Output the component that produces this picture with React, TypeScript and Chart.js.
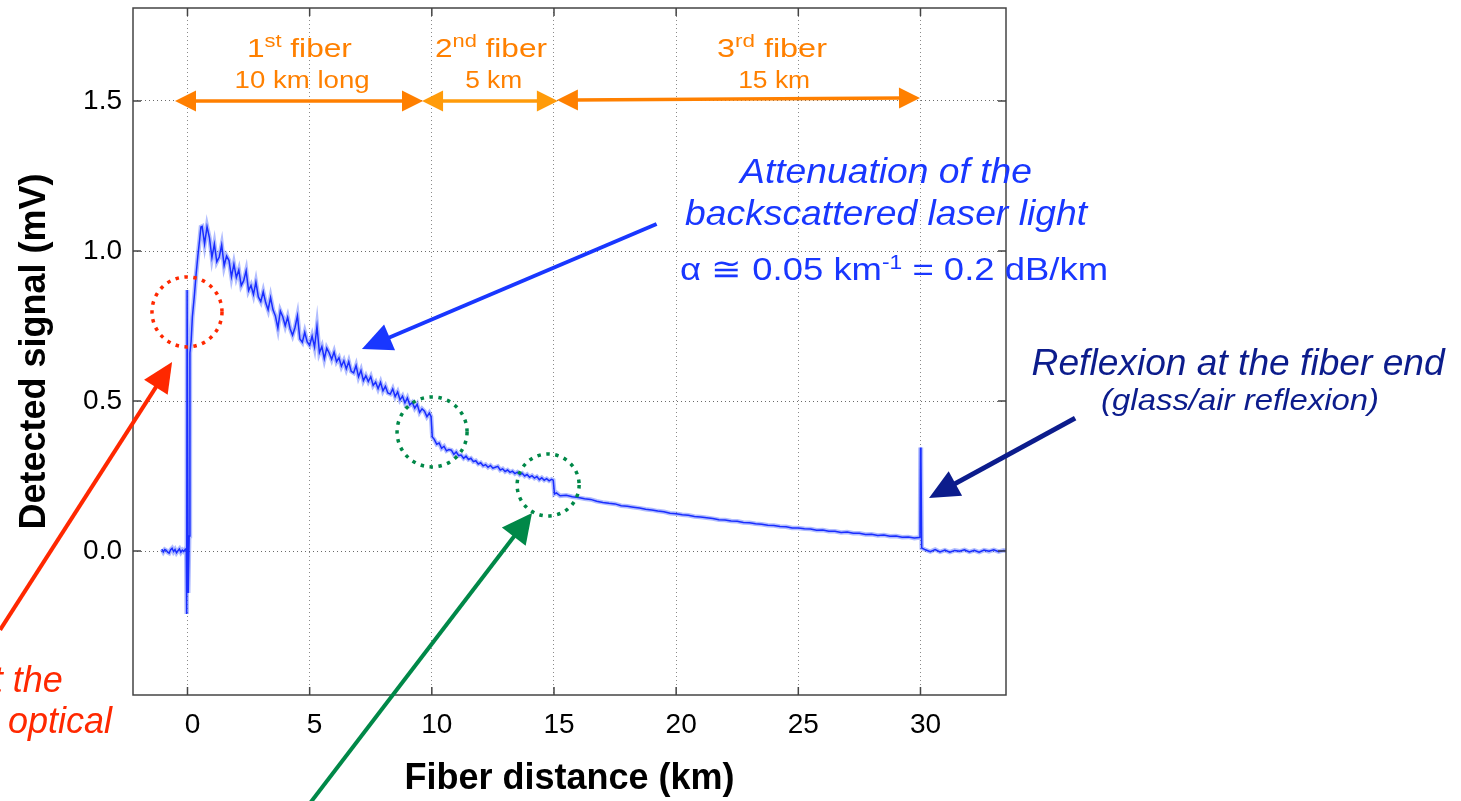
import React, { useEffect, useRef } from "react";
import { Chart, registerables } from "chart.js";

Chart.register(...registerables);

// ---------- data ----------
const preKm = [-1.05, -0.99, -0.93, -0.87, -0.81, -0.75, -0.69, -0.63, -0.57, -0.51, -0.45, -0.39, -0.33, -0.27, -0.21, -0.15, -0.09, -0.05];
const preMv = [0.006, -0.003, 0.005, 0.002, -0.004, -0.007, 0.004, 0.009, -0.002, 0.005, -0.006, 0.001, 0.007, -0.004, 0.003, -0.002, 0.006, 0.001];

const launchKm = [-0.04, -0.025, -0.015, 0.03, 0.07, 0.1, 0.15, 0.2, 0.28, 0.35, 0.42, 0.5, 0.55];
const launchMv = [0.0, -0.21, 0.87, -0.14, 0.05, 0.66, 0.7, 0.78, 0.85, 0.92, 0.98, 1.04, 1.08];

const fiber1Km = [0.6, 0.7, 0.8, 0.9, 1.0, 1.1, 1.2, 1.3, 1.4, 1.5, 1.6, 1.7, 1.8, 1.9, 2.0, 2.1, 2.2, 2.3, 2.4, 2.5, 2.6, 2.7, 2.8, 2.9, 3.0, 3.1, 3.2, 3.3, 3.4, 3.5, 3.6, 3.7, 3.8, 3.9, 4.0, 4.1, 4.2, 4.3, 4.4, 4.5, 4.6, 4.7, 4.8, 4.9, 5.0, 5.1, 5.2, 5.3, 5.4, 5.5, 5.6, 5.7, 5.8, 5.9, 6.0, 6.1, 6.2, 6.3, 6.4, 6.5, 6.6, 6.7, 6.8, 6.9, 7.0, 7.1, 7.2, 7.3, 7.4, 7.5, 7.6, 7.7, 7.8, 7.9, 8.0, 8.1, 8.2, 8.3, 8.4, 8.5, 8.6, 8.7, 8.8, 8.9, 9.0, 9.1, 9.2, 9.3, 9.4, 9.5, 9.6, 9.7, 9.8, 9.9];
const fiber1Mv = [
  1.082, 1.024, 1.081, 1.044, 0.978, 1.023, 0.964, 0.98, 1.02, 0.951,
  0.983, 0.968, 0.914, 0.956, 0.912, 0.937, 0.885, 0.901, 0.934, 0.868,
  0.885, 0.855, 0.896, 0.847, 0.831, 0.864, 0.828, 0.804, 0.845, 0.804,
  0.783, 0.743, 0.8, 0.781, 0.751, 0.779, 0.741, 0.719, 0.745, 0.784,
  0.707, 0.696, 0.729, 0.697, 0.686, 0.716, 0.68, 0.749, 0.661, 0.681,
  0.641, 0.676, 0.66, 0.639, 0.663, 0.631, 0.644, 0.616, 0.634, 0.607,
  0.631, 0.599, 0.594, 0.618, 0.581, 0.602, 0.568, 0.584, 0.565, 0.581,
  0.552, 0.563, 0.541, 0.562, 0.534, 0.549, 0.527, 0.523, 0.54, 0.515,
  0.53, 0.504, 0.516, 0.494, 0.51, 0.487, 0.495, 0.476, 0.489, 0.462,
  0.474, 0.466, 0.448, 0.46,
];

const fiber2Km = [9.97, 10.02, 10.1, 10.2, 10.3, 10.4, 10.5, 10.6, 10.7, 10.8, 10.9, 11.0, 11.1, 11.2, 11.3, 11.4, 11.5, 11.6, 11.7, 11.8, 11.9, 12.0, 12.1, 12.2, 12.3, 12.4, 12.5, 12.6, 12.7, 12.8, 12.9, 13.0, 13.1, 13.2, 13.3, 13.4, 13.5, 13.6, 13.7, 13.8, 13.9, 14.0, 14.1, 14.2, 14.3, 14.4, 14.5, 14.6, 14.7, 14.8, 14.9, 14.97];
const fiber2Mv = [
  0.448, 0.38,
  0.372, 0.356, 0.36, 0.342, 0.349, 0.334, 0.338, 0.336, 0.322, 0.33,
  0.318, 0.32, 0.309, 0.316, 0.305, 0.309, 0.298, 0.301, 0.29, 0.294,
  0.284, 0.288, 0.279, 0.285, 0.276, 0.279, 0.282, 0.27, 0.274, 0.265,
  0.27, 0.262, 0.266, 0.258, 0.263, 0.254, 0.259, 0.25, 0.255, 0.246,
  0.251, 0.243, 0.248, 0.238, 0.244, 0.236, 0.241, 0.234, 0.239,
  0.236,
];

const fiber3Km = [15.02, 15.1, 15.25, 15.5, 15.75, 16.0, 16.25, 16.5, 16.75, 17.0, 17.25, 17.5, 17.75, 18.0, 18.25, 18.5, 18.75, 19.0, 19.25, 19.5, 19.75, 20.0, 20.25, 20.5, 20.75, 21.0, 21.25, 21.5, 21.75, 22.0, 22.25, 22.5, 22.75, 23.0, 23.25, 23.5, 23.75, 24.0, 24.25, 24.5, 24.75, 25.0, 25.25, 25.5, 25.75, 26.0, 26.25, 26.5, 26.75, 27.0, 27.25, 27.5, 27.75, 28.0, 28.25, 28.5, 28.75, 29.0, 29.25, 29.5, 29.75, 29.95];
const fiber3Mv = [
  0.19, 0.194, 0.184,
  0.186, 0.181,
  0.178, 0.174, 0.172, 0.166,
  0.162, 0.159, 0.157, 0.151,
  0.149, 0.146, 0.143, 0.139,
  0.137, 0.133, 0.131, 0.126,
  0.124, 0.121, 0.119, 0.115,
  0.113, 0.111, 0.108, 0.104,
  0.103, 0.1, 0.099, 0.095,
  0.094, 0.091, 0.089, 0.086,
  0.085, 0.082, 0.081, 0.077,
  0.077, 0.074, 0.073, 0.069,
  0.07, 0.066, 0.066, 0.062,
  0.063, 0.059, 0.059, 0.055,
  0.056, 0.052, 0.053, 0.049,
  0.05, 0.046, 0.047, 0.043,
  0.045,
];

const endKm = [29.98, 30.0, 30.02, 30.05, 30.2, 30.4, 30.6, 30.8, 31.0, 31.2, 31.4, 31.6, 31.8, 32.0, 32.2, 32.4, 32.6, 32.8, 33.0, 33.2, 33.4, 33.5];
const endMv = [0.046, 0.345, 0.3, 0.01, 0.004, -0.002, 0.005, -0.003, 0.003, -0.004, 0.002, -0.001, 0.004, -0.003, 0.002, -0.004, 0.003, -0.001, 0.004, -0.002, 0.002, 0.001];

const xTickValues = [0, 5, 10, 15, 20, 25, 30];
const yTickValues = [0, 0.5, 1.0, 1.5];

// ---------- annotation styling (positions in data units) ----------
const FONT = "Arial, 'Liberation Sans', Helvetica, sans-serif";
const ORANGE = "rgb(255,128,0)";
const BLUE = "rgb(25,55,255)";
const NAVY = "rgb(12,28,140)";
const RED = "rgb(255,40,0)";
const GREEN = "rgb(0,136,72)";

const spanArrows = [
  { x0: -0.51, y0: 1.5, x1: 9.64, y1: 1.5, color: "rgb(255,127,0)" },
  { x0: 9.6, y0: 1.5, x1: 15.16, y1: 1.5, color: "rgb(255,155,10)" },
  { x0: 15.12, y0: 1.503, x1: 29.98, y1: 1.51, color: "rgb(255,128,0)" },
];

const pointerArrows = [
  { x0: 19.2, y0: 1.09, x1: 7.14, y1: 0.673, color: BLUE, width: 4, head: 30, half: 14 },
  { x0: -7.67, y0: -0.263, x1: -0.63, y1: 0.63, color: RED, width: 4, head: 30, half: 14 },
  { x0: 5.02, y0: -0.84, x1: 14.1, y1: 0.127, color: GREEN, width: 4, head: 30, half: 15 },
  { x0: 36.33, y0: 0.443, x1: 30.35, y1: 0.177, color: NAVY, width: 5, head: 30, half: 14 },
];

const dottedCircles = [
  { x: -0.02, y: 0.797, r: 35, color: RED },
  { x: 10.01, y: 0.397, r: 35, color: GREEN },
  { x: 14.76, y: 0.22, r: 31, color: GREEN },
];

type Seg = [string, number, number];
const textNotes: { segs: Seg[]; x: number; y: number; color: string; italic?: boolean; width?: number; align?: "center" | "right" }[] = [
  { segs: [["1", 26, 0], ["st", 18, 10], [" fiber", 26, 0]], x: 4.58, y: 1.647, color: ORANGE, width: 105 },
  { segs: [["10 km long", 23, 0]], x: 4.69, y: 1.545, color: ORANGE, width: 135 },
  { segs: [["2", 26, 0], ["nd", 18, 10], [" fiber", 26, 0]], x: 12.42, y: 1.647, color: ORANGE, width: 112 },
  { segs: [["5 km", 23, 0]], x: 12.53, y: 1.545, color: ORANGE, width: 57 },
  { segs: [["3", 26, 0], ["rd", 18, 10], [" fiber", 26, 0]], x: 23.92, y: 1.647, color: ORANGE, width: 110 },
  { segs: [["15 km", 23, 0]], x: 24.01, y: 1.545, color: ORANGE, width: 72 },
  { segs: [["Attenuation of the", 35, 0]], x: 28.59, y: 1.227, color: BLUE, italic: true, width: 292 },
  { segs: [["backscattered laser light", 35, 0]], x: 28.59, y: 1.087, color: BLUE, italic: true, width: 402 },
  { segs: [["α ≅ 0.05 km", 32, 0], ["-1", 20, 11], [" = 0.2 dB/km", 32, 0]], x: 28.92, y: 0.903, color: BLUE, width: 428 },
  { segs: [["Reflexion at the fiber end", 36, 0]], x: 43.0, y: 0.587, color: NAVY, italic: true, width: 413 },
  { segs: [["(glass/air reflexion)", 29, 0]], x: 43.08, y: 0.47, color: NAVY, italic: true, width: 278 },
  { segs: [["Reflexion at the", 36, 0]], x: -5.1, y: -0.47, color: RED, italic: true, align: "right" },
  { segs: [["entrance of the optical", 36, 0]], x: -3.09, y: -0.607, color: RED, italic: true, align: "right" },
];

function arrowHead(ctx: CanvasRenderingContext2D, tx: number, ty: number, ux: number, uy: number, len: number, half: number) {
  const px = -uy, py = ux;
  ctx.beginPath();
  ctx.moveTo(tx, ty);
  ctx.lineTo(tx - ux * len + px * half, ty - uy * len + py * half);
  ctx.lineTo(tx - ux * len - px * half, ty - uy * len - py * half);
  ctx.closePath();
  ctx.fill();
}

function drawArrow(ctx: CanvasRenderingContext2D, x0: number, y0: number, x1: number, y1: number, color: string, width: number, len: number, half: number, both: boolean) {
  const dx = x1 - x0, dy = y1 - y0;
  const L = Math.hypot(dx, dy);
  const ux = dx / L, uy = dy / L;
  ctx.strokeStyle = color;
  ctx.fillStyle = color;
  ctx.lineWidth = width;
  ctx.setLineDash([]);
  ctx.beginPath();
  const sx = both ? x0 + ux * len * 0.8 : x0;
  const sy = both ? y0 + uy * len * 0.8 : y0;
  ctx.moveTo(sx, sy);
  ctx.lineTo(x1 - ux * len * 0.8, y1 - uy * len * 0.8);
  ctx.stroke();
  arrowHead(ctx, x1, y1, ux, uy, len, half);
  if (both) arrowHead(ctx, x0, y0, -ux, -uy, len, half);
}

const overlayPlugin = {
  id: "overlay",
  afterDraw(chart: any) {
    const { ctx, chartArea: a, scales } = chart;
    const xs = scales.x, ys = scales.y;
    const X = (v: number) => xs.getPixelForValue(v);
    const Y = (v: number) => ys.getPixelForValue(v);
    ctx.save();

    // frame
    ctx.strokeStyle = "#444";
    ctx.lineWidth = 1.5;
    ctx.setLineDash([]);
    ctx.strokeRect(a.left, a.top, a.right - a.left, a.bottom - a.top);

    // inward ticks on all sides
    ctx.beginPath();
    xs.ticks.forEach((t: any) => {
      const p = X(t.value);
      ctx.moveTo(p, a.bottom); ctx.lineTo(p, a.bottom - 8);
      ctx.moveTo(p, a.top); ctx.lineTo(p, a.top + 8);
    });
    ys.ticks.forEach((t: any) => {
      const p = Y(t.value);
      ctx.moveTo(a.left, p); ctx.lineTo(a.left + 8, p);
      ctx.moveTo(a.right, p); ctx.lineTo(a.right - 8, p);
    });
    ctx.stroke();

    // dotted circles
    dottedCircles.forEach((c) => {
      ctx.strokeStyle = c.color;
      ctx.lineWidth = 3.5;
      ctx.setLineDash([3.5, 5.5]);
      ctx.beginPath();
      ctx.arc(X(c.x), Y(c.y), c.r, 0, Math.PI * 2);
      ctx.stroke();
    });
    ctx.setLineDash([]);

    // fiber span arrows
    spanArrows.forEach((s) => {
      drawArrow(ctx, X(s.x0), Y(s.y0), X(s.x1), Y(s.y1), s.color, 3.5, 21, 10.5, true);
    });

    // pointer arrows
    pointerArrows.forEach((p) => {
      drawArrow(ctx, X(p.x0), Y(p.y0), X(p.x1), Y(p.y1), p.color, p.width, p.head, p.half, false);
    });

    // texts
    textNotes.forEach((n) => {
      const style = n.italic ? "italic " : "";
      let total = 0;
      const widths = n.segs.map(([t, size]) => {
        ctx.font = `${style}${size}px ${FONT}`;
        const w = ctx.measureText(t).width;
        total += w;
        return w;
      });
      const sx = n.width ? n.width / total : 1;
      ctx.save();
      ctx.translate(X(n.x), Y(n.y));
      ctx.scale(sx, 1);
      ctx.fillStyle = n.color;
      ctx.textBaseline = "alphabetic";
      ctx.textAlign = "left";
      let cur = n.align === "right" ? -total : -total / 2;
      n.segs.forEach(([t, size, rise], i) => {
        ctx.font = `${style}${size}px ${FONT}`;
        ctx.fillText(t, cur, -rise);
        cur += widths[i];
      });
      ctx.restore();
    });

    ctx.restore();
  },
};

function pairs(xs: number[], ys: number[]) {
  return xs.map((x, i) => ({ x, y: ys[i] }));
}

export default function App() {
  const ref = useRef<HTMLCanvasElement>(null);

  useEffect(() => {
    document.body.style.margin = "0";
    document.body.style.overflow = "hidden";
    const trace = [
      ...pairs(preKm, preMv),
      ...pairs(launchKm, launchMv),
      ...pairs(fiber1Km, fiber1Mv),
      ...pairs(fiber2Km, fiber2Mv),
      ...pairs(fiber3Km, fiber3Mv),
      ...pairs(endKm, endMv),
    ];
    const chart = new Chart(ref.current as HTMLCanvasElement, {
      type: "scatter",
      data: {
        datasets: [
          {
            label: "Detected signal",
            data: trace,
            showLine: true,
            borderColor: "rgb(25,45,255)",
            borderWidth: 1.5,
            pointRadius: 0,
            tension: 0,
            order: 0,
          },
          {
            label: "noise band",
            data: trace,
            showLine: true,
            borderColor: "rgba(60,90,255,0.4)",
            borderWidth: 4.5,
            pointRadius: 0,
            tension: 0,
            order: 1,
          },
        ],
      },
      options: {
        animation: false,
        responsive: false,
        devicePixelRatio: 1,
        layout: { padding: { left: 0, top: 8, right: 455, bottom: 0 } },
        plugins: { legend: { display: false }, tooltip: { enabled: false } },
        scales: {
          x: {
            type: "linear",
            min: -2.23,
            max: 33.5,
            afterBuildTicks: (s: any) => {
              s.ticks = xTickValues.map((v) => ({ value: v }));
            },
            afterFit: (s: any) => {
              s.height = 106;
              s.paddingLeft = 0;
              s.paddingRight = 0;
            },
            grid: { color: "#8a8a8a", lineWidth: 1, drawTicks: false },
            border: { display: false, dash: [1, 3] },
            ticks: {
              font: { size: 28, family: FONT },
              color: "#000",
              padding: 13,
              labelOffset: 5,
              maxRotation: 0,
              autoSkip: false,
              callback: (v: any) => String(v),
            },
            title: {
              display: true,
              text: "Fiber distance (km)",
              color: "#000",
              font: { size: 36, weight: "bold", family: FONT },
              padding: { top: 0, bottom: 0 },
            },
          },
          y: {
            type: "linear",
            min: -0.48,
            max: 1.81,
            afterBuildTicks: (s: any) => {
              s.ticks = yTickValues.map((v) => ({ value: v }));
            },
            afterFit: (s: any) => {
              s.width = 133;
              s.paddingTop = 0;
              s.paddingBottom = 0;
            },
            grid: { color: "#6a6a6a", lineWidth: 1, drawTicks: false },
            border: { display: false, dash: [1, 3] },
            ticks: {
              font: { size: 28, family: FONT },
              color: "#000",
              padding: 11,
              autoSkip: false,
              callback: (v: any) => Number(v).toFixed(1),
            },
            title: {
              display: true,
              text: "Detected signal (mV)",
              color: "#000",
              font: { size: 36, weight: "bold", family: FONT },
              padding: { top: 13, bottom: 0 },
            },
          },
        },
      },
      plugins: [overlayPlugin],
    } as any);
    return () => chart.destroy();
  }, []);

  return (
    <div style={{ width: 1461, height: 801, position: "relative", background: "#fff" }}>
      <canvas ref={ref} width={1461} height={801} style={{ display: "block", width: 1461, height: 801 }} />
    </div>
  );
}
